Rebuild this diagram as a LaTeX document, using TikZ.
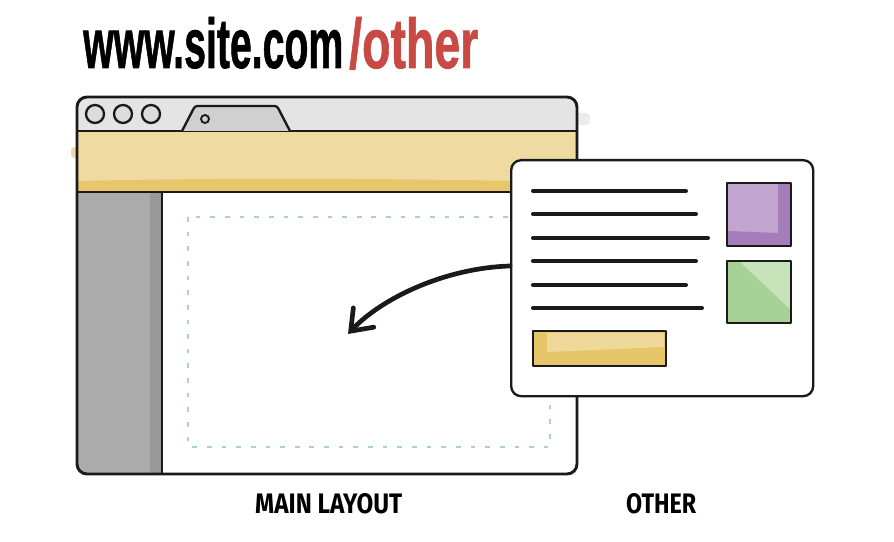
\documentclass[tikz,border=0pt]{standalone}
\usepackage{fontspec}
\setmainfont{Liberation Sans}
\newfontfamily\titlefont[BoldFeatures={FakeBold=1.2}]{Liberation Sans}
\newfontfamily\labelfont{Fira Sans}
\usetikzlibrary{arrows.meta}
\definecolor{bargray}{HTML}{E4E4E4}
\definecolor{btngray}{HTML}{DCDCDC}
\definecolor{tabgray}{HTML}{D0D0D0}
\definecolor{band}{HTML}{EFDBA2}
\definecolor{banddark}{HTML}{E8C76C}
\definecolor{side}{HTML}{ABABAB}
\definecolor{sidedark}{HTML}{989898}
\definecolor{dashcol}{HTML}{A9D2CB}
\definecolor{purp}{HTML}{C2A5CF}
\definecolor{purpdark}{HTML}{A67DBB}
\definecolor{grn}{HTML}{A7D197}
\definecolor{grnlight}{HTML}{C6E4BA}
\definecolor{btn}{HTML}{EED99B}
\definecolor{btndark}{HTML}{E7C66A}
\definecolor{titlered}{HTML}{C94A44}
\definecolor{ink}{HTML}{1A1A1A}
\tikzset{
  outline/.style={draw=ink, line width=2.5pt, line join=round},
  thinoutline/.style={draw=ink, line width=2pt, line join=round},
  textline/.style={draw=ink, line width=3.4pt, line cap=round},
  arrowline/.style={draw=ink, line width=4pt, line cap=round,
    -{Straight Barb[length=16pt, width=24pt, line cap=round]}},
  guide/.style={draw=dashcol, line width=1.7pt, dash pattern=on 4pt off 8.5pt},
  caption/.style={inner sep=0pt, anchor=base west}
}
\begin{document}
\begin{tikzpicture}[x=0.03cm, y=-0.03cm]
\useasboundingbox[fill=white] (0,0) rectangle (894,542);

% title, in two parts so the path sits where it should
\node[caption] (titlehost) at (83,68)
  {\resizebox{7.8cm}{1.53cm}{\titlefont\bfseries\vphantom{h/}www.site.com}};
\node[caption] (titlepath) at (349,68)
  {\resizebox{3.87cm}{1.53cm}{\titlefont\bfseries\color{titlered}\vphantom{h/}/other}};

% soft colour smudges around the window
\fill[bargray!70, rounded corners=3pt] (565,113) rectangle (590,125);
\fill[band, rounded corners=3pt] (71,147) rectangle (85,158);

% window contents, clipped to the window outline
\begin{scope}
  \clip[rounded corners=0.3cm] (77,97) rectangle (577,474);
  \fill[bargray] (77,97) rectangle (577,131);
  \fill[band] (77,131) rectangle (577,192);
  \fill[banddark] (77,181) .. controls (250,177) and (420,179) .. (577,182) -- (577,192) -- (77,192) -- cycle;
  \fill[side] (77,192) rectangle (162,474);
  \fill[sidedark] (150,192) rectangle (162,474);
\end{scope}
\draw[outline] (77,131) -- (577,131);
\draw[outline] (77,192) -- (577,192);
\draw[outline] (162,192) -- (162,474);

% window buttons and tab
\draw[thinoutline, fill=btngray] (95,114) circle [radius=9];
\draw[thinoutline, fill=btngray] (123,114) circle [radius=9];
\draw[thinoutline, fill=btngray] (151,114) circle [radius=9];
\draw[thinoutline, fill=tabgray, rounded corners=2pt] (182,131) -- (195,106) -- (277,106) -- (290,131);
\draw[draw=ink, line width=1.6pt] (205,119) circle [radius=4];

% window frame
\draw[outline, rounded corners=0.3cm] (77,97) rectangle (577,474);

% dashed content area
\draw[guide] (188,217) rectangle (550,447);

% the "other" page
\node[thinoutline, fill=white, rounded corners=0.3cm, minimum width=9.06cm,
      minimum height=7.08cm, inner sep=0pt, anchor=north west] (card) at (510,159) {};

\draw[textline] (533,191) -- (686,191);
\draw[textline] (533,214) -- (696,214);
\draw[textline] (533,238) -- (708,238);
\draw[textline] (533,261) -- (696,261);
\draw[textline] (533,285) -- (686,285);
\draw[textline] (533,308) -- (702,308);

% purple block
\fill[purp] (727,183) rectangle (791,246);
\fill[purpdark] (778,183) -- (791,183) -- (791,246) -- (727,246) -- (727,231) -- (778,233) -- cycle;
\draw[thinoutline] (727,183) rectangle (791,246);

% green block
\fill[grn] (727,261) rectangle (791,323);
\fill[grnlight] (739,261) -- (791,261) -- (791,310) -- cycle;
\draw[thinoutline] (727,261) rectangle (791,323);

% button
\fill[btndark] (533,331) rectangle (666,366);
\fill[btn] (547,333) -- (664,333) -- (664,347) -- (547,352) -- cycle;
\draw[thinoutline] (533,331) rectangle (666,366);

% arrow from the page into the layout
\coordinate (arrowstart) at (510,266);
\coordinate (arrowend) at (348,334);
\draw[arrowline] (arrowstart) .. controls (445,268) and (382,298) .. (arrowend);

% captions
\node[caption] (mainlabel) at (255,513)
  {\resizebox{4.41cm}{0.6cm}{\labelfont\bfseries MAIN LAYOUT}};
\node[caption] (otherlabel) at (626,513)
  {\resizebox{2.1cm}{0.6cm}{\labelfont\bfseries OTHER}};
\end{tikzpicture}
\end{document}
